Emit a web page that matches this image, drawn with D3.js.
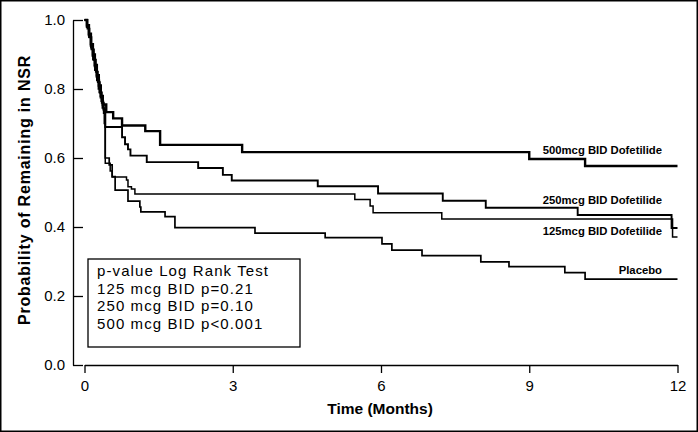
<!DOCTYPE html>
<html>
<head>
<meta charset="utf-8">
<script src="https://cdn.jsdelivr.net/npm/d3@7"></script>
<style>
	body { margin: 0; background: #fff; }
	text { font-family: Arial, "Liberation Sans", sans-serif; fill: #000; }
</style>
</head>
<body>
<script>
// Kaplan-Meier steps, [months, probability]
var dose500 = [[0,1],[0.05,0.985],[0.09,0.96],[0.13,0.93],[0.17,0.9],[0.21,0.87],[0.25,0.84],[0.29,0.81],[0.33,0.78],[0.37,0.755],
	[0.44,0.733],[0.58,0.715],[0.76,0.694],[1.23,0.678],[1.53,0.638],[3.19,0.617],[9.0,0.597],[10.13,0.577],[12,0.577]];
var dose250 = [[0,1],[0.06,0.975],[0.1,0.95],[0.14,0.915],[0.19,0.885],[0.23,0.85],[0.27,0.82],[0.31,0.79],[0.35,0.76],[0.39,0.73],
	[0.42,0.69],[0.76,0.66],[0.82,0.64],[0.88,0.625],[0.93,0.607],[1.26,0.588],[2.3,0.571],[2.8,0.551],[2.98,0.535],[4.72,0.518],
	[5.94,0.497],[7.25,0.476],[8.12,0.456],[9.98,0.435],[11.88,0.397],[12,0.397]];
var dose125 = [[0,1],[0.04,0.98],[0.08,0.955],[0.12,0.925],[0.16,0.895],[0.2,0.865],[0.24,0.835],[0.28,0.8],[0.32,0.775],[0.36,0.745],
	[0.4,0.7],[0.42,0.585],[0.52,0.562],[0.56,0.545],[0.85,0.536],[0.88,0.517],[0.95,0.51],[1.02,0.496],[5.47,0.48],[5.78,0.461],
	[5.84,0.441],[7.23,0.423],[11.9,0.371],[12,0.371]];
var placebo = [[0,1],[0.05,0.98],[0.09,0.95],[0.13,0.92],[0.17,0.885],[0.21,0.855],[0.25,0.825],[0.3,0.79],[0.34,0.765],[0.38,0.74],
	[0.42,0.6],[0.5,0.58],[0.56,0.546],[0.62,0.507],[0.88,0.475],[1.12,0.458],[1.14,0.444],[1.63,0.43],[1.83,0.398],[3.45,0.382],
	[4.87,0.369],[6.02,0.351],[6.22,0.333],[6.83,0.317],[8.02,0.299],[8.59,0.285],[9.72,0.268],[10.13,0.249],[12,0.249]];

var seriesNames = ["500mcg BID Dofetilide", "250mcg BID Dofetilide", "125mcg BID Dofetilide", "Placebo"];
var xTicks = [0, 3, 6, 9, 12];
var yTicks = [0, 0.2, 0.4, 0.6, 0.8, 1.0];
var legendLines = ["p-value Log Rank Test", "125 mcg BID p=0.21", "250 mcg BID p=0.10", "500 mcg BID p<0.001"];

var width = 698, height = 432;

var svg = d3.select("body").append("svg")
	.attr("width", width)
	.attr("height", height);

svg.append("rect")
	.attr("x", 0.75).attr("y", 0.75)
	.attr("width", width - 1.5).attr("height", height - 1.5)
	.attr("fill", "none").attr("stroke", "#000").attr("stroke-width", 1.5);

var x = d3.scaleLinear().domain([0, 12]).range([84.5, 677.5]);
var y = d3.scaleLinear().domain([0, 1]).range([365, 20]);

// y axis sits left of the time origin, ticks point inward
var yAxis = svg.append("g")
	.attr("transform", "translate(73,0)")
	.call(d3.axisLeft(y).tickValues(yTicks).tickFormat(d3.format(".1f"))
		.tickSizeInner(-10).tickSizeOuter(0).tickPadding(8));

var xAxis = svg.append("g")
	.attr("transform", "translate(0,365)")
	.call(d3.axisBottom(x).tickValues(xTicks).tickSizeInner(8).tickSizeOuter(0).tickPadding(7));

svg.selectAll(".domain, .tick line").attr("stroke", "#000").attr("stroke-width", 1.3);
svg.selectAll(".tick text").style("font-size", "15px").style("font-family", "Arial, 'Liberation Sans', sans-serif");

svg.append("text")
	.attr("x", 380).attr("y", 414)
	.attr("text-anchor", "middle")
	.style("font-size", "15.5px").style("font-weight", "bold")
	.text("Time (Months)");

svg.append("text")
	.attr("transform", "translate(30,190) rotate(-90)")
	.attr("text-anchor", "middle")
	.style("font-size", "16px").style("font-weight", "bold")
	.style("letter-spacing", "0.8px")
	.text("Probability of Remaining in NSR");

var line = d3.line()
	.x(function(d) { return x(d[0]); })
	.y(function(d) { return y(d[1]); })
	.curve(d3.curveStepAfter);

var curves = [dose500, dose250, dose125, placebo];
var widths = [2.4, 1.9, 1.5, 1.7];

svg.selectAll("path.km")
	.data(curves)
	.enter()
	.append("path")
	.attr("class", "km")
	.attr("d", line)
	.attr("fill", "none")
	.attr("stroke", "#000")
	.attr("stroke-width", function(d, i) { return widths[i]; });

// curve labels, right aligned near the end of the follow-up
var labelY = [153.5, 203.5, 234.5, 273.5];
svg.selectAll("text.lbl")
	.data(seriesNames)
	.enter()
	.append("text")
	.attr("class", "lbl")
	.attr("x", 662)
	.attr("y", function(d, i) { return labelY[i]; })
	.attr("text-anchor", "end")
	.style("font-size", "11.3px").style("font-weight", "bold")
	.text(function(d) { return d; });

// p-value box
svg.append("rect")
	.attr("x", 88).attr("y", 259)
	.attr("width", 212).attr("height", 88)
	.attr("fill", "#fff").attr("stroke", "#000").attr("stroke-width", 1.3);

svg.selectAll("text.leg")
	.data(legendLines)
	.enter()
	.append("text")
	.attr("class", "leg")
	.attr("x", 97)
	.attr("y", function(d, i) { return 276 + i * 17.5; })
	.style("font-size", "15px")
	.style("letter-spacing", "1.1px")
	.text(function(d) { return d; });
</script>
</body>
</html>
